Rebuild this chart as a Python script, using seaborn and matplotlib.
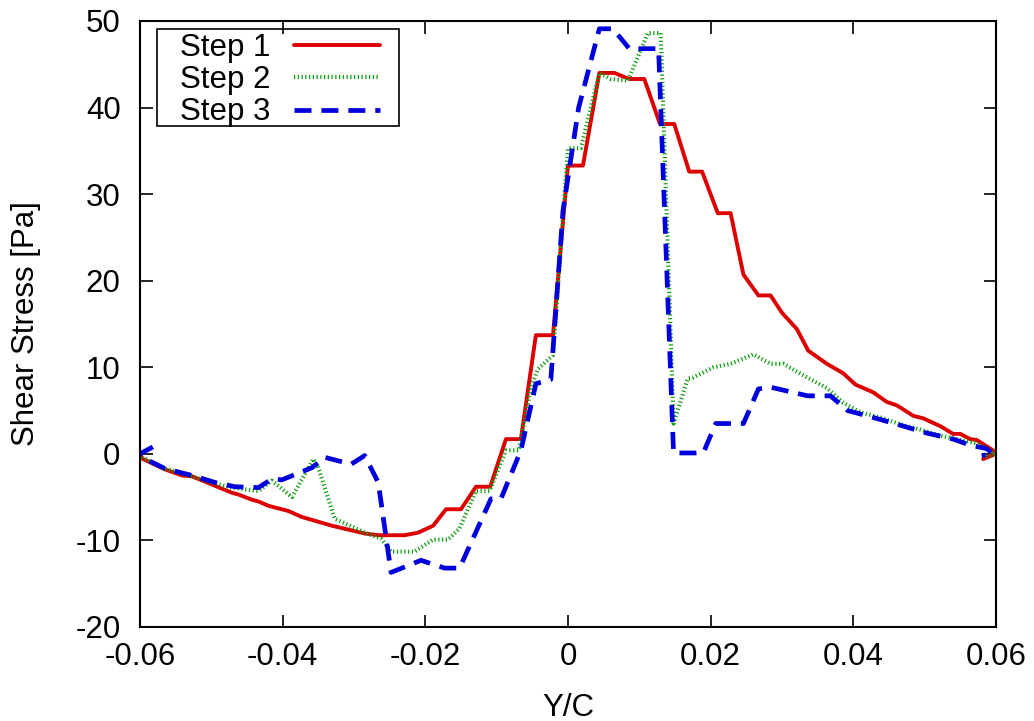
import numpy as np
import pandas as pd
import matplotlib
matplotlib.use("Agg")
import matplotlib.pyplot as plt
from matplotlib.patches import Rectangle
import seaborn as sns

# ---------------------- DATA ----------------------
x_step1 = [-0.0600, -0.0597, -0.0565, -0.0541, -0.0527, -0.0471, -0.0462, -0.0443, -0.0434, -0.0420,
           -0.0392, -0.0373, -0.0331, -0.0285, -0.0266, -0.0229, -0.0210, -0.0189, -0.0171, -0.0150,
           -0.0129, -0.0109, -0.0087, -0.0066, -0.0045, -0.0021, 0.0000, 0.0021, 0.0044, 0.0065,
           0.0086, 0.0107, 0.0129, 0.0149, 0.0170, 0.0188, 0.0210, 0.0228, 0.0246, 0.0267,
           0.0284, 0.0300, 0.0321, 0.0337, 0.0363, 0.0386, 0.0403, 0.0428, 0.0447, 0.0461,
           0.0484, 0.0498, 0.0522, 0.0540, 0.0550, 0.0564, 0.0573, 0.0596, 0.0600, 0.0582]
y_step1 = [0.0, -0.55, -1.8, -2.5, -2.6, -4.5, -4.7, -5.3, -5.5, -6.0,
           -6.6, -7.3, -8.3, -9.2, -9.4, -9.4, -9.1, -8.3, -6.4, -6.4,
           -3.8, -3.8, 1.7, 1.7, 13.7, 13.7, 33.3, 33.3, 44.0, 44.0,
           43.3, 43.3, 38.1, 38.1, 32.6, 32.6, 27.8, 27.8, 20.7, 18.3,
           18.3, 16.3, 14.4, 11.9, 10.4, 9.3, 8.0, 7.1, 6.0, 5.6,
           4.4, 4.1, 3.2, 2.3, 2.3, 1.7, 1.6, 0.4, 0.0, -0.6]

x_step2 = [-0.0600, -0.0597, -0.0565, -0.0531, -0.0500, -0.0471, -0.0453, -0.0434, -0.0415, -0.0387,
           -0.0357, -0.0350, -0.0327, -0.0308, -0.0285, -0.0262, -0.0248, -0.0215, -0.0206, -0.0189,
           -0.0168, -0.0152, -0.0129, -0.0110, -0.0087, -0.0069, -0.0052, -0.0042, -0.0021, 0.0000,
           0.0018, 0.0044, 0.0060, 0.0084, 0.0112, 0.0130, 0.0148, 0.0168, 0.0175, 0.0204,
           0.0228, 0.0260, 0.0284, 0.0302, 0.0336, 0.0363, 0.0386, 0.0410, 0.0438, 0.0466,
           0.0494, 0.0522, 0.0550, 0.0573, 0.0596, 0.0600, 0.0582]
y_step2 = [0.0, -0.4, -1.7, -2.5, -3.3, -3.9, -4.1, -4.3, -3.1, -5.0,
           -0.6, -1.6, -7.5, -8.2, -9.1, -9.8, -11.3, -11.3, -10.8, -9.9,
           -9.9, -8.6, -4.3, -4.3, 0.4, 0.4, 7.7, 9.8, 11.4, 35.3,
           35.3, 44.0, 43.3, 43.1, 48.6, 48.6, 3.5, 8.7, 8.8, 10.0,
           10.4, 11.5, 10.4, 10.4, 8.8, 7.6, 5.9, 4.8, 4.2, 3.4,
           2.8, 2.1, 1.6, 1.2, 0.2, 0.0, -0.4]

x_step3 = [-0.0582, -0.0600, -0.0590, -0.0565, -0.0527, -0.0495, -0.0467, -0.0434, -0.0415, -0.0401,
           -0.0359, -0.0341, -0.0304, -0.0285, -0.0266, -0.0248, -0.0206, -0.0173, -0.0152, -0.0108,
           -0.0094, -0.0066, -0.0045, -0.0024, -0.0007, 0.0015, 0.0044, 0.0063, 0.0086, 0.0127,
           0.0148, 0.0179, 0.0190, 0.0207, 0.0246, 0.0267, 0.0284, 0.0336, 0.0368, 0.0392,
           0.0428, 0.0466, 0.0503, 0.0540, 0.0564, 0.0587, 0.0596, 0.0580]
y_step3 = [0.8, 0.0, -0.7, -1.7, -2.5, -3.3, -3.8, -3.9, -2.9, -3.0,
           -1.6, -0.4, -1.2, -0.2, -3.3, -13.7, -12.3, -13.2, -13.2, -5.2,
           -5.2, 0.4, 8.1, 8.6, 28.1, 40.0, 49.1, 49.1, 46.8, 46.8,
           0.1, 0.1, 0.15, 3.5, 3.5, 7.5, 7.7, 6.7, 6.7, 5.0,
           4.2, 3.3, 2.4, 1.7, 1.0, 0.6, 0.0, -0.2]

x_ticks = [-0.06, -0.04, -0.02, 0, 0.02, 0.04, 0.06]
x_tick_labels = ["-0.06", "-0.04", "-0.02", "0", "0.02", "0.04", "0.06"]
y_ticks = [-20, -10, 0, 10, 20, 30, 40, 50]
# ---------------------------------------------------------------------------

sns.set_theme(style="ticks")
plt.rcParams["font.family"] = ["Liberation Sans", "DejaVu Sans"]
plt.rcParams["axes.unicode_minus"] = False
plt.rcParams["text.color"] = "black"
plt.rcParams["axes.labelcolor"] = "black"
FS = 22.5

fig = plt.figure(figsize=(10.34, 7.21), dpi=100)
ax = fig.add_axes([0.1354, 0.1304, 0.8278, 0.8405])

df1 = pd.DataFrame({"x": x_step1, "y": y_step1})
df2 = pd.DataFrame({"x": x_step2, "y": y_step2})
df3 = pd.DataFrame({"x": x_step3, "y": y_step3})

sns.lineplot(data=df1, x="x", y="y", sort=False, estimator=None, ax=ax,
             color="#dd0000", linewidth=2.8, label="Step 1")
sns.lineplot(data=df2, x="x", y="y", sort=False, estimator=None, ax=ax,
             color="#11a011", linewidth=3.0, linestyle=(0, (0.3, 0.6)), label="Step 2")
sns.lineplot(data=df3, x="x", y="y", sort=False, estimator=None, ax=ax,
             color="#0000dd", linewidth=3.4, linestyle=(0, (3.6, 2.1)), label="Step 3")
for ln in ax.get_lines():
    ln.set_dash_capstyle("butt")

ax.set_xlim(-0.06, 0.06)
ax.set_ylim(-20, 50)
ax.set_xticks(x_ticks)
ax.set_xticklabels(x_tick_labels)
ax.set_yticks(y_ticks)
ax.tick_params(direction="in", length=9, width=1.2, labelsize=FS, colors="black",
               top=True, right=True)
ax.tick_params(axis="x", pad=11)
ax.tick_params(axis="y", pad=14)
for sp in ax.spines.values():
    sp.set_visible(True)
    sp.set_linewidth(1.5)
    sp.set_color("black")

ax.set_xlabel("Y/C", fontsize=FS)
ax.set_ylabel("Shear Stress [Pa]", fontsize=FS)
ax.xaxis.set_label_coords(0.5, -0.109)
ax.yaxis.set_label_coords(-0.1155, 0.5)

# gnuplot-like key: text first, tight box drawn separately
leg = ax.legend(loc="upper left", bbox_to_anchor=(0.0467, 0.980), borderaxespad=0,
                markerfirst=False, fontsize=FS, handlelength=2.78, handletextpad=0.74,
                labelspacing=0.07, borderpad=0, frameon=False, labelcolor="black")
ax.add_patch(Rectangle((0.0199, 0.8267), 0.2827, 0.1601, transform=ax.transAxes,
                       fill=False, edgecolor="black", linewidth=1.2, zorder=5))

fig.savefig("out.png", dpi=100)
